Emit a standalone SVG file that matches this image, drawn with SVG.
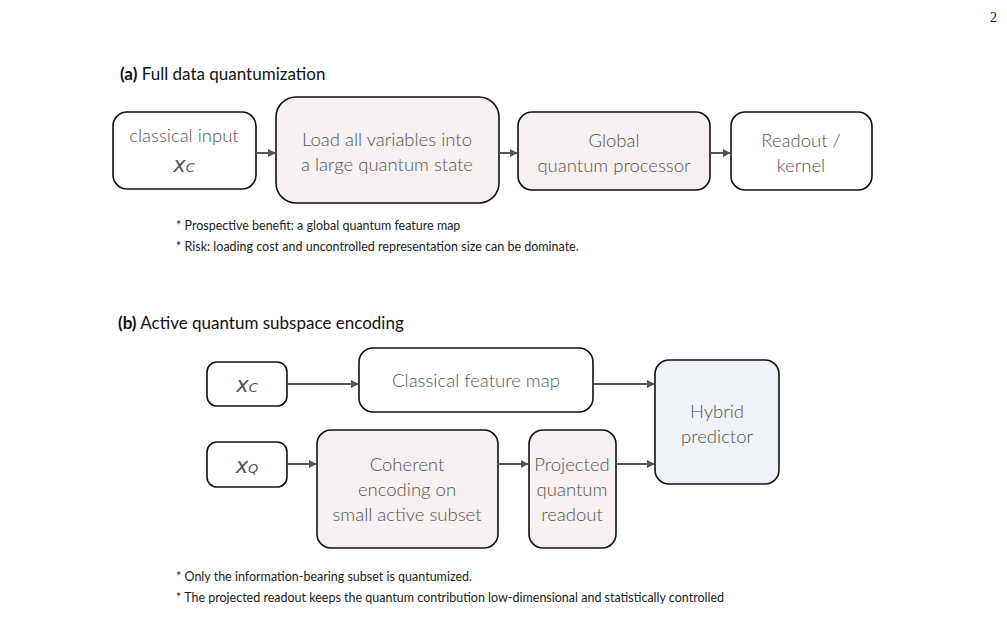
<svg xmlns="http://www.w3.org/2000/svg" width="1007" height="639" viewBox="0 0 1007 639">
<defs>
<style>
.b{fill:#fff;stroke:#111;stroke-width:1.6}
.p{fill:#f7f0f0;stroke:#111;stroke-width:1.6}
.q{fill:#eef1f6;stroke:#111;stroke-width:1.6}
.t{font-family:Lato,"Open Sans",sans-serif;font-size:18.5px;font-weight:300;fill:#555;text-anchor:middle}
.v{font-family:"DejaVu Sans",sans-serif;font-style:italic;font-size:21px;fill:#555;text-anchor:middle}
.h{font-family:Lato,sans-serif;font-size:17px;fill:#111}
.n{font-family:Lato,sans-serif;font-size:12.5px;fill:#222}
.c{stroke:#555;stroke-width:2;fill:none;marker-end:url(#a)}
</style>
<marker id="a" viewBox="0 0 10 10" refX="9" refY="5" markerWidth="4" markerHeight="4" orient="auto"><path d="M0,0L10,5L0,10z" fill="#555"/></marker>
</defs>
<rect width="1007" height="639" fill="#fff"/>
<text x="990" y="22" font-family="Liberation Serif,serif" font-size="14" fill="#111">2</text>
<text x="120" y="80" class="h"><tspan font-weight="bold">(a)</tspan> Full data quantumization</text>
<g id="a1"><rect class="b" x="113" y="112" width="143" height="77" rx="14"/><text class="t" x="184" y="142">classical input</text><text class="v" x="184" y="172">x<tspan font-size="13">C</tspan></text></g>
<g id="a2"><rect class="p" x="276" y="97" width="223" height="106" rx="20"/><text class="t" x="387" y="146">Load all variables into</text><text class="t" x="387" y="171">a large quantum state</text></g>
<g id="a3"><rect class="p" x="518" y="112" width="192" height="78" rx="14"/><text class="t" x="614" y="147">Global</text><text class="t" x="614" y="172">quantum processor</text></g>
<g id="a4"><rect class="b" x="731" y="112" width="141" height="78" rx="14"/><text class="t" x="801" y="147">Readout /</text><text class="t" x="801" y="172">kernel</text></g>
<text class="n" x="176" y="230">* Prospective benefit: a global quantum feature map</text>
<text class="n" x="176" y="251">* Risk: loading cost and uncontrolled representation size can be dominate.</text>
<text x="118" y="329" class="h"><tspan font-weight="bold">(b)</tspan> Active quantum subspace encoding</text>
<g id="b1"><rect class="b" x="207" y="362" width="80" height="44" rx="10"/><text class="v" x="247" y="392">x<tspan font-size="13">C</tspan></text></g>
<g id="b2"><rect class="b" x="359" y="348" width="234" height="64" rx="14"/><text class="t" x="476" y="387">Classical feature map</text></g>
<g id="b3"><rect class="q" x="655" y="360" width="124" height="124" rx="14"/><text class="t" x="717" y="418">Hybrid</text><text class="t" x="717" y="443">predictor</text></g>
<g id="b4"><rect class="b" x="207" y="442" width="80" height="45" rx="10"/><text class="v" x="247" y="473">x<tspan font-size="13">Q</tspan></text></g>
<g id="b5"><rect class="p" x="317" y="430" width="181" height="118" rx="14"/><text class="t" x="407" y="471">Coherent</text><text class="t" x="407" y="496">encoding on</text><text class="t" x="407" y="521">small active subset</text></g>
<g id="b6"><rect class="p" x="529" y="430" width="87" height="118" rx="14"/><text class="t" x="572" y="471">Projected</text><text class="t" x="572" y="496">quantum</text><text class="t" x="572" y="521">readout</text></g>
<text class="n" x="176" y="581">* Only the information-bearing subset is quantumized.</text>
<text class="n" x="176" y="602">* The projected readout keeps the quantum contribution low-dimensional and statistically controlled</text>
<g id="connectors">
<path class="c" d="M256,153H275"/><path class="c" d="M499,153H517"/><path class="c" d="M710,153H730"/>
<path class="c" d="M287,384H358"/><path class="c" d="M593,384H654"/>
<path class="c" d="M287,464H316"/><path class="c" d="M498,464H528"/><path class="c" d="M616,464H654"/>
</g>
</svg>
